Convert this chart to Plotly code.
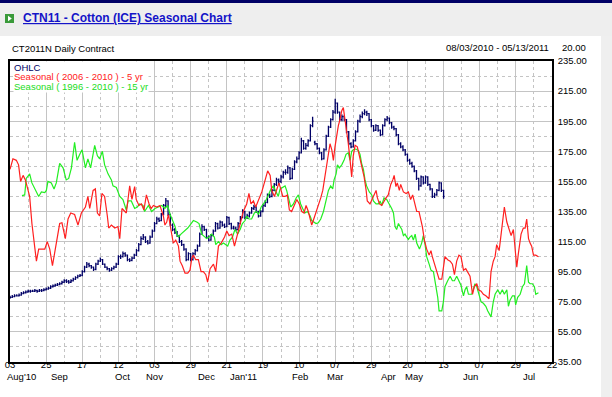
import plotly.graph_objects as go

# ---------------- data ----------------
# x axis = trading-day index counted from 08/03/2010
tick_days = [0, 16, 32, 48, 64, 80, 96, 112, 128, 144, 160, 176, 192, 208, 224, 240]
tick_labels = ["03", "25", "17", "12", "03", "29", "21", "19", "10", "07", "29", "20", "13", "07", "29", "22"]
month_labels = ["Aug'10", "Sep", "Oct", "Nov", "Dec", "Jan'11", "Feb", "Mar", "Apr", "May", "Jun", "Jul"]
month_days = [5.1, 22.1, 49.8, 64.0, 87.1, 103.4, 128.4, 143.7, 167.4, 178.9, 203.7, 229.9]
y_ticks = [35, 55, 75, 95, 115, 135, 155, 175, 195, 215, 235]
legend_names = ["OHLC", "Seasonal ( 2006 - 2010 ) - 5 yr", "Seasonal ( 1996 - 2010 ) - 15 yr"]

ohlc_day = list(range(193))
ohlc_open = [
    77.5, 78.0, 78.5, 79.0, 79.0, 79.5, 80.5, 81.0, 81.5, 82.0,
    82.0, 82.0, 82.5, 82.0, 82.5, 82.5, 83.0, 83.5, 84.0, 85.0,
    85.5, 86.0, 86.5, 87.0, 88.0, 89.0, 88.5, 88.0, 89.0, 90.0,
    91.0, 92.0, 92.5, 95.0, 98.0, 100.0, 99.0, 98.0, 96.5, 100.0,
    102.0, 103.0, 100.0, 98.0, 97.0, 96.0, 97.0, 98.0, 100.0, 105.0,
    105.0, 107.0, 106.0, 103.0, 102.5, 104.0, 106.0, 109.0, 113.0, 117.0,
    118.0, 115.0, 114.0, 118.0, 122.0, 127.0, 130.0, 129.0, 133.0, 139.0,
    142.0, 133.0, 126.0, 123.0, 121.0, 119.0, 115.0, 113.0, 110.0, 103.0,
    107.0, 103.0, 107.0, 109.0, 112.0, 120.0, 125.0, 123.0, 118.0, 116.0,
    119.0, 122.0, 127.0, 124.0, 128.0, 126.0, 125.0, 131.0, 127.0, 124.0,
    124.0, 123.0, 127.0, 131.0, 135.0, 131.0, 132.0, 134.0, 137.0, 138.0,
    135.0, 132.0, 135.0, 139.0, 141.0, 146.0, 145.0, 149.0, 153.0, 156.0,
    155.0, 158.0, 161.0, 161.0, 164.0, 157.0, 163.0, 168.0, 170.0, 174.0,
    182.0, 177.0, 179.0, 182.0, 192.0, 181.0, 180.0, 177.0, 174.0, 170.0,
    176.0, 185.0, 191.0, 196.0, 201.0, 207.0, 201.0, 196.0, 198.0, 196.0,
    188.0, 180.0, 178.0, 182.0, 188.0, 195.0, 198.0, 200.0, 201.0, 200.0,
    196.0, 192.0, 189.0, 192.0, 189.0, 186.0, 192.0, 196.0, 197.0, 194.0,
    191.0, 190.0, 186.0, 180.0, 178.0, 176.0, 173.0, 169.0, 167.0, 165.0,
    162.0, 157.0, 152.0, 158.0, 154.0, 158.0, 153.0, 150.0, 145.0, 146.0,
    149.0, 154.0, 149.0,
]
ohlc_high = [
    79.0, 79.5, 80.0, 80.0, 80.5, 81.5, 82.0, 82.5, 83.0, 83.0,
    83.0, 83.5, 83.0, 83.5, 83.5, 84.0, 84.5, 85.0, 86.0, 86.5,
    87.0, 87.5, 88.0, 89.0, 90.0, 90.0, 89.5, 90.0, 91.0, 92.0,
    93.0, 93.5, 96.0, 99.0, 101.5, 101.0, 99.5, 98.5, 101.0, 103.0,
    104.5, 103.5, 100.5, 98.5, 97.5, 98.0, 99.0, 101.0, 106.0, 106.5,
    108.5, 108.0, 106.5, 104.0, 105.0, 107.0, 110.0, 114.0, 118.5, 120.0,
    118.5, 116.0, 119.0, 123.0, 128.0, 131.5, 131.0, 134.0, 140.0, 144.0,
    142.5, 133.5, 127.0, 124.0, 122.0, 119.5, 116.0, 113.5, 110.5, 108.0,
    107.5, 108.0, 110.0, 113.0, 121.0, 126.5, 125.5, 123.5, 119.0, 120.0,
    123.0, 128.0, 127.5, 129.0, 128.5, 127.0, 132.0, 131.5, 127.5, 125.5,
    125.0, 128.0, 132.0, 136.5, 135.5, 133.5, 135.0, 138.0, 139.5, 138.5,
    135.5, 136.0, 140.0, 142.5, 147.0, 147.0, 150.0, 154.0, 157.5, 157.0,
    159.5, 162.0, 163.0, 165.5, 164.5, 164.0, 169.0, 171.5, 175.0, 184.0,
    182.5, 180.5, 183.0, 193.0, 198.0, 182.0, 180.5, 177.5, 174.5, 177.0,
    186.0, 192.0, 197.0, 202.5, 210.0, 207.5, 201.5, 199.5, 199.0, 196.5,
    188.5, 181.0, 183.0, 189.0, 196.0, 199.5, 201.5, 203.0, 202.0, 200.5,
    196.5, 192.5, 193.0, 192.5, 189.5, 193.0, 197.0, 198.5, 197.5, 194.5,
    192.0, 190.5, 186.5, 181.0, 179.0, 176.5, 173.5, 170.0, 168.0, 165.5,
    162.5, 157.5, 159.0, 158.5, 159.0, 158.5, 153.5, 150.5, 147.5, 150.0,
    155.0, 154.5, 149.5,
]
ohlc_low = [
    77.0, 77.5, 78.0, 78.5, 78.5, 79.0, 80.0, 80.5, 81.0, 81.0,
    81.5, 81.5, 81.0, 81.5, 81.5, 82.0, 82.5, 83.0, 83.5, 84.5,
    85.0, 85.5, 86.0, 86.5, 87.5, 87.5, 87.0, 87.5, 88.5, 89.5,
    90.5, 91.5, 92.0, 94.5, 97.5, 98.0, 97.0, 95.5, 96.0, 99.5,
    101.5, 99.5, 97.5, 96.0, 95.0, 95.5, 96.5, 97.5, 99.5, 103.5,
    104.5, 105.0, 102.0, 101.5, 102.0, 103.5, 105.5, 108.5, 112.5, 116.0,
    114.0, 113.0, 113.5, 117.5, 121.5, 126.5, 128.0, 128.5, 132.5, 138.0,
    132.0, 125.0, 122.0, 120.0, 118.0, 114.0, 112.0, 109.0, 102.0, 102.5,
    102.0, 102.5, 106.0, 108.5, 111.5, 119.5, 122.0, 117.0, 115.0, 115.5,
    118.5, 121.5, 123.0, 123.5, 125.0, 124.0, 124.5, 126.0, 123.0, 123.0,
    122.0, 122.5, 126.5, 130.5, 130.0, 130.0, 131.0, 133.5, 136.0, 134.0,
    131.0, 131.5, 134.5, 138.0, 140.5, 144.0, 144.5, 148.5, 152.0, 153.0,
    154.0, 157.0, 159.5, 160.0, 156.0, 156.5, 162.5, 167.0, 169.5, 173.5,
    176.0, 176.0, 178.0, 181.5, 191.0, 179.0, 176.0, 173.0, 169.0, 169.5,
    175.5, 184.5, 190.5, 195.5, 200.0, 200.0, 195.0, 195.0, 195.0, 187.0,
    179.0, 177.0, 177.5, 181.5, 187.5, 194.0, 197.0, 199.0, 198.5, 195.0,
    191.0, 188.0, 188.5, 188.0, 185.0, 185.5, 191.5, 195.0, 193.0, 190.0,
    189.0, 185.0, 179.0, 177.0, 175.0, 172.0, 168.0, 166.0, 164.0, 161.0,
    156.0, 149.0, 151.5, 153.0, 153.5, 152.0, 149.0, 144.0, 144.0, 145.5,
    148.5, 148.0, 143.5,
]
ohlc_close = [
    78.0, 78.5, 79.0, 79.0, 79.5, 80.5, 81.0, 81.5, 82.0, 82.0,
    82.0, 82.5, 82.0, 82.5, 82.5, 83.0, 83.5, 84.0, 85.0, 85.5,
    86.0, 86.5, 87.0, 88.0, 89.0, 88.5, 88.0, 89.0, 90.0, 91.0,
    92.0, 92.5, 95.0, 98.0, 100.0, 99.0, 98.0, 96.5, 100.0, 102.0,
    103.0, 100.0, 98.0, 97.0, 96.0, 97.0, 98.0, 100.0, 105.0, 105.0,
    107.0, 106.0, 103.0, 102.5, 104.0, 106.0, 109.0, 113.0, 117.0, 118.0,
    115.0, 114.0, 118.0, 122.0, 127.0, 130.0, 129.0, 133.0, 139.0, 142.0,
    133.0, 126.0, 123.0, 121.0, 119.0, 115.0, 113.0, 110.0, 103.0, 107.0,
    103.0, 107.0, 109.0, 112.0, 120.0, 125.0, 123.0, 118.0, 116.0, 119.0,
    122.0, 127.0, 124.0, 128.0, 126.0, 125.0, 131.0, 127.0, 124.0, 124.0,
    123.0, 127.0, 131.0, 135.0, 131.0, 132.0, 134.0, 137.0, 138.0, 135.0,
    132.0, 135.0, 139.0, 141.0, 146.0, 145.0, 149.0, 153.0, 156.0, 155.0,
    158.0, 161.0, 161.0, 164.0, 157.0, 163.0, 168.0, 170.0, 174.0, 182.0,
    177.0, 179.0, 182.0, 192.0, 195.0, 180.0, 177.0, 174.0, 170.0, 176.0,
    185.0, 191.0, 196.0, 201.0, 207.0, 201.0, 196.0, 198.0, 196.0, 188.0,
    180.0, 178.0, 182.0, 188.0, 195.0, 198.0, 200.0, 201.0, 200.0, 196.0,
    192.0, 189.0, 192.0, 189.0, 186.0, 192.0, 196.0, 197.0, 194.0, 191.0,
    190.0, 186.0, 180.0, 178.0, 176.0, 173.0, 169.0, 167.0, 165.0, 162.0,
    157.0, 152.0, 158.0, 154.0, 158.0, 153.0, 150.0, 145.0, 146.0, 149.0,
    154.0, 149.0, 145.0,
]

red_day = [
    0, 1.3, 2.8, 3.8, 4.7, 5.8, 6.8, 8.0, 8.7, 9.7, 10.9, 11.7, 12.7, 15.4, 16.5, 17.6, 18.8, 19.8,
    21.0, 22.0, 23.0, 24.5, 25.7, 26.9, 28.6, 30.1, 31.6, 33.4, 34.5, 35.3, 36.8, 37.8, 38.7, 39.7,
    40.7, 41.9, 43.1, 43.7, 44.9, 46.4, 47.8, 48.6, 49.6, 50.8, 51.5, 53.0, 54.0, 55.2, 55.9, 57.1,
    58.2, 59.3, 60.4, 61.6, 62.5, 63.5, 65.0, 66.4, 67.9, 68.6, 69.4, 70.1, 71.3, 72.3, 73.4, 74.6,
    75.3, 76.3, 77.5, 78.7, 79.7, 80.5, 81.2, 82.2, 83.4, 84.6, 85.6, 86.7, 87.5, 88.6, 90.1, 91.1,
    92.3, 93.5, 95.0, 96.0, 97.0, 98.2, 99.4, 100.4, 101.9, 103.3, 104.8, 105.8, 106.7, 107.8, 108.8,
    110.0, 111.5, 113.0, 114.1, 115.2, 115.9, 117.1, 118.1, 119.1, 120.8, 121.8, 122.8, 123.7, 124.7,
    125.8, 127.0, 128.1, 129.2, 130.2, 131.1, 132.1, 133.6, 134.3, 135.5, 136.6, 137.6, 138.5, 139.5,
    140.5, 141.7, 142.5, 143.2, 143.9, 144.7, 145.4, 146.1, 146.9, 147.6, 148.4, 149.1, 149.8, 150.6,
    151.3, 152.0, 152.8, 153.8, 154.7, 155.7, 156.8, 157.7, 158.2, 159.4, 160.6, 161.2, 162.1, 162.7,
    163.6, 164.6, 165.6, 166.5, 167.5, 168.6, 169.5, 170.1, 170.9, 171.5, 172.4, 173.0, 174.2, 175.4,
    176.4, 177.4, 178.3, 179.4, 180.1, 181.1, 182.0, 182.6, 183.5, 184.5, 185.6, 186.4, 187.0, 187.9,
    189.0, 190.0, 191.2, 191.9, 192.6, 193.8, 194.9, 195.9, 196.8, 197.8, 198.8, 199.7, 200.8, 201.8,
    202.7, 203.7, 204.8, 205.6, 206.7, 207.4, 208.6, 209.6, 210.7, 211.5, 212.1, 213.0, 214.0, 214.8,
    215.5, 216.6, 217.4, 218.0, 218.9, 220.0, 220.7, 221.9, 222.9, 223.7, 224.4, 225.1, 226.3, 227.3,
    228.1, 228.8, 229.6, 230.3, 231.0, 231.8, 232.8, 234.0,
]
red_val = [
    163, 170, 169, 166, 155, 159, 156, 150, 145, 127, 112, 102, 110, 110, 115, 110, 99, 108,
    119, 127, 127.5, 117, 130, 134, 133, 126, 134, 138, 145, 137, 149, 150, 134, 132,
    147, 145, 132, 124, 126, 124, 125, 117, 137, 135, 134, 152, 143, 151.5, 143, 139,
    140, 136, 146, 140, 137, 139, 138, 139, 132, 126, 128, 133, 123, 114, 116, 112,
    102, 99, 94, 94, 96, 104, 106, 103, 103, 95, 95, 93, 88, 97, 100, 95,
    112, 114, 118, 122, 119, 120, 112, 118, 128, 135, 140, 147, 140, 142, 138,
    142, 148, 156, 162, 159, 149, 145, 149, 154, 145, 145, 146, 136, 135,
    139, 143, 140, 135, 134, 139, 135, 126, 129, 134, 139, 144, 149, 159,
    169, 180, 176, 169, 178, 186, 192, 196, 202, 204, 196, 187, 180, 169,
    158, 172, 179, 178, 172, 165, 158, 149, 142, 140, 144, 147, 149, 144,
    140, 139, 142, 144, 146, 153, 156, 159, 151.5, 154, 149, 153, 148, 147,
    148, 143, 146, 140, 135, 135, 130, 125, 116, 110, 106, 109, 105, 100,
    95, 90, 90, 97, 105, 103, 102, 100, 93, 102, 106, 105, 96, 97,
    95, 92, 80, 85, 87, 83, 82, 80, 79, 78, 77, 95, 102, 105,
    113, 109, 119, 125, 138, 128, 124, 119, 123, 110, 98, 107, 120, 124,
    124, 130, 117, 114, 112, 106, 106, 105,
]

green_day = [
    5.3, 6.5, 7.2, 8.7, 9.7, 10.9, 12.7, 13.9, 15.4, 16.1, 16.8, 18.3, 19.5, 20.5, 22.0, 23.5, 24.9,
    26.0, 27.2, 28.6, 29.7, 30.9, 31.9, 33.4, 34.5, 35.7, 37.5, 38.7, 39.7, 40.9, 41.9, 43.4, 44.9,
    45.6, 47.1, 48.6, 50.0, 51.5, 52.3, 53.7, 55.2, 56.4, 57.4, 58.9, 59.6, 61.3, 62.7, 64.2, 65.7,
    67.2, 68.6, 69.8, 70.9, 71.9, 73.1, 73.8, 74.6, 75.7, 77.2, 78.7, 80.2, 81.2, 82.7, 83.7, 84.9,
    86.1, 87.1, 88.1, 89.3, 90.5, 91.1, 92.3, 93.5, 94.5, 95.5, 96.4, 97.4, 98.5, 99.6, 100.8, 101.9,
    102.9, 104.1, 104.8, 105.8, 107.0, 108.2, 109.2, 110.0, 111.2, 112.2, 113.2, 114.4, 115.6, 116.6,
    117.7, 118.8, 119.6, 120.8, 121.8, 122.5, 123.3, 124.3, 125.5, 126.7, 127.7, 128.7, 129.6, 130.6,
    131.7, 132.9, 133.6, 134.6, 135.5, 136.5, 137.6, 138.8, 139.9, 141.0, 142.0, 142.9, 143.5, 144.4,
    145.0, 145.8, 146.9, 147.9, 148.8, 149.8, 150.6, 151.3, 152.0, 153.2, 154.3, 155.0, 155.7, 156.5,
    157.2, 157.9, 159.1, 160.2, 160.9, 162.1, 163.1, 163.9, 164.6, 165.6, 166.8, 168.0, 169.0, 169.8,
    170.5, 171.2, 172.0, 172.7, 173.5, 174.2, 174.9, 175.7, 176.4, 177.1, 177.9, 178.6, 179.4, 180.1,
    181.3, 182.3, 183.0, 183.8, 184.5, 185.6, 186.4, 187.5, 188.5, 189.4, 190.0, 191.2, 191.9, 192.6,
    193.8, 194.9, 195.9, 196.8, 197.8, 198.8, 199.7, 200.8, 201.5, 202.2, 203.0, 204.5, 205.2, 205.9,
    206.7, 207.7, 208.6, 209.6, 210.7, 211.5, 212.1, 213.0, 214.0, 214.8, 216.0, 217.0, 218.0, 218.9,
    220.0, 220.7, 221.4, 222.5, 223.4, 223.9, 224.8, 225.9, 226.9, 227.8, 228.8, 229.6, 230.3, 231.3,
    232.2, 232.8, 234.0,
]
green_val = [
    145.5, 146, 157, 160, 154, 150, 145, 148, 147.5, 149, 155, 154, 150, 154, 167, 164, 156,
    157, 164, 181, 169, 173, 176, 164, 170, 164, 179, 172, 170, 175, 166, 160, 156,
    152, 151, 145, 143, 136, 142, 142, 137, 138, 140, 139, 135, 139, 135, 137, 138,
    139, 137, 139, 133, 129, 125, 120, 118, 120, 122, 124, 127, 129, 128, 127, 120,
    118, 117, 118, 120, 118, 113, 115, 113, 114, 113, 112, 116, 118, 123, 120, 123,
    127, 129, 132, 130, 130, 134, 135, 133, 138, 140, 142, 146, 150, 152,
    148, 145, 150, 151, 152, 149, 143, 138, 140, 144, 146, 140, 137, 134,
    135, 132, 129, 128, 127, 127.5, 130, 135, 143, 149, 152, 150, 156, 160,
    166, 164, 166, 169, 173, 174, 169, 175, 176, 176.5, 175.5, 173, 167, 163,
    156, 152, 148, 146, 142, 140, 140, 142, 139, 144, 143, 140, 137, 134,
    125, 123, 127, 125, 123, 119, 120, 118, 116.5, 118, 119, 116, 120, 114,
    110, 114, 119, 113, 105, 100, 96, 95, 87, 78, 69, 69, 75, 85,
    89, 92, 89, 89, 92, 89, 86, 79, 83, 85, 80, 80, 84, 87,
    85, 80, 75, 74, 72, 69, 67, 65, 75, 80, 83, 80, 83, 80,
    83, 72, 76, 79, 79, 73, 78, 80, 85, 87, 99, 88, 87, 87,
    85, 80, 81,
]

# ---------------- styling helpers ----------------
NAVY = "#000066"
RED = "#ff2020"
GREEN = "#22ee22"
GRID = "#c4c4c4"
SMALL = "Liberation Sans"

L, R, T, B, W, H = 10, 60, 61, 35, 612, 397
PW, PH = W - L - R, H - T - B


def px(x):
    return (x - L) / PW


def py(y):
    return (H - B - y) / PH


fig = go.Figure()
fig.add_trace(go.Scatter(x=green_day, y=green_val, mode="lines",
                         line=dict(color=GREEN, width=1.2), hoverinfo="skip"))
fig.add_trace(go.Scatter(x=red_day, y=red_val, mode="lines",
                         line=dict(color=RED, width=1.2), hoverinfo="skip"))
fig.add_trace(go.Ohlc(x=ohlc_day, open=ohlc_open, high=ohlc_high, low=ohlc_low, close=ohlc_close,
                      increasing=dict(line=dict(color=NAVY, width=1.3)),
                      decreasing=dict(line=dict(color=NAVY, width=1.3)),
                      tickwidth=0.45, hoverinfo="skip"))

shapes = [
    dict(type="rect", xref="paper", yref="paper", x0=px(0), x1=px(W), y0=py(36), y1=py(0),
         fillcolor="#eeeeee", line=dict(width=0), layer="below"),
    dict(type="rect", xref="paper", yref="paper", x0=px(0), x1=px(W), y0=py(3), y1=py(0),
         fillcolor="#000066", line=dict(width=0), layer="below"),
    dict(type="rect", xref="paper", yref="paper", x0=px(601), x1=px(W), y0=py(H), y1=py(36),
         fillcolor="#efefef", line=dict(width=0), layer="below"),
    dict(type="rect", xref="paper", yref="paper", x0=px(5), x1=px(14), y0=py(23), y1=py(14),
         fillcolor="#3a9a3a", line=dict(width=0)),
    dict(type="path", xref="paper", yref="paper",
         path=f"M {px(8)} {py(15.8)} L {px(11.8)} {py(18.5)} L {px(8)} {py(21.2)} Z",
         fillcolor="white", line=dict(width=0)),
]

ann = [
    dict(x=px(21), y=py(18.5), xref="paper", yref="paper", xanchor="left", yanchor="middle",
         text="<b><u>CTN11 - Cotton (ICE) Seasonal Chart</u></b>", showarrow=False,
         font=dict(family="Liberation Sans", size=12, color="#1414c8")),
    dict(x=px(10), y=py(48.5), xref="paper", yref="paper", xanchor="left", yanchor="middle",
         text="CT2011N Daily Contract", showarrow=False,
         font=dict(family=SMALL, size=9.5, color="black")),
    dict(x=px(551), y=py(47.5), xref="paper", yref="paper", xanchor="right", yanchor="middle",
         text="08/03/2010 - 05/13/2011", showarrow=False,
         font=dict(family=SMALL, size=9.5, color="black")),
    dict(x=px(560), y=py(47.5), xref="paper", yref="paper", xanchor="left", yanchor="middle",
         text="20.00", showarrow=False,
         font=dict(family=SMALL, size=9.5, color="black")),
]

# legend: one multi-line annotation, tight line spacing like the original
legend_colors = [NAVY, RED, "#22dd22"]
legend_text = "<br>".join(
    f"<span style='font-size:9.5px;color:{c}'>{n}</span>" for n, c in zip(legend_names, legend_colors))
ann.append(dict(x=px(13), y=py(61.5), xref="paper", yref="paper", xanchor="left", yanchor="top",
                text=legend_text, align="left", showarrow=False, bgcolor="white", borderpad=0,
                font=dict(family=SMALL, size=7.3, color=NAVY)))

for lab, d in zip(month_labels, month_days):
    ann.append(dict(x=d, y=py(376), xref="x", yref="paper", xanchor="center",
                    yanchor="middle", text=lab, showarrow=False,
                    font=dict(family=SMALL, size=9.5, color="black")))

fig.update_layout(
    width=W, height=H, margin=dict(l=L, r=R, t=T, b=B, pad=0, autoexpand=False),
    paper_bgcolor="white", plot_bgcolor="white", showlegend=False,
    shapes=shapes, annotations=ann,
    xaxis=dict(range=[0, 240], tickmode="array", tickvals=tick_days, ticktext=tick_labels,
               automargin=False, ticklabelstandoff=-7,
               showgrid=True, gridcolor=GRID, gridwidth=1,
               minor=dict(tickmode="linear", tick0=0, dtick=8, showgrid=True,
                          gridcolor=GRID, griddash="dot", gridwidth=1),
               showline=True, linecolor="black", linewidth=1.6, mirror=True,
               zeroline=False, ticks="", tickfont=dict(family=SMALL, size=9.5, color="black"),
               rangeslider=dict(visible=False), fixedrange=True),
    yaxis=dict(range=[35, 235], side="right", tickmode="array", tickvals=y_ticks,
               automargin=False, ticklabelstandoff=2,
               tickformat=".2f", showgrid=True, gridcolor=GRID, gridwidth=1,
               minor=dict(tickmode="linear", tick0=35, dtick=10, showgrid=True,
                          gridcolor=GRID, griddash="dot", gridwidth=1),
               showline=True, linecolor="black", linewidth=1.6, mirror=True,
               zeroline=False, ticks="", tickfont=dict(family=SMALL, size=9.5, color="black"),
               fixedrange=True),
)

fig.write_html("out.html", config={"displayModeBar": False},
               post_script="document.body.style.margin='0';document.body.style.padding='0';")
